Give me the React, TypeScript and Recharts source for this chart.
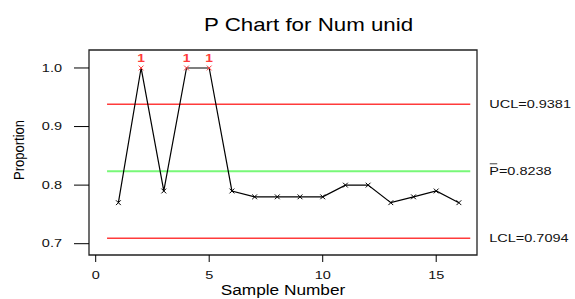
import React from 'react';
import { LineChart, Line, XAxis, YAxis, ReferenceLine, ReferenceArea } from 'recharts';

const samples = [1, 2, 3, 4, 5, 6, 7, 8, 9, 10, 11, 12, 13, 14, 15, 16];
const proportions = [0.77, 1.0, 0.79, 1.0, 1.0, 0.79, 0.78, 0.78, 0.78, 0.78, 0.8, 0.8, 0.77, 0.78, 0.79, 0.77];
const ucl = 0.9381;
const centerLine = 0.8238;
const lcl = 0.7094;
const xTicks = [0, 5, 10, 15];
const yTicks = [0.7, 0.8, 0.9, 1.0];
const xDomain: [number, number] = [-0.295, 16.797];
const yDomain: [number, number] = [0.6807, 1.0307];
const limitStart = 0.5;
const limitEnd = 16.5;
const title = 'P Chart for Num unid';
const xLabel = 'Sample Number';
const yLabel = 'Proportion';

const data = samples.map((s, i) => ({ sample: s, p: proportions[i] }));

const FONT = '"Liberation Sans", Arial, Helvetica, sans-serif';
const RED = '#ff3b3b';
const GREEN = '#78f878';

function SText({ x, y, sx = 1, size, anchor = 'start', fill = '#000', rotate = 0, weight = 'normal', children }: any) {
  const tf = `translate(${x},${y}) scale(${sx},1)` + (rotate ? ` rotate(${rotate})` : '');
  return (
    <text transform={tf} x={0} y={0} fontSize={size} textAnchor={anchor} fill={fill} fontFamily={FONT} fontWeight={weight}>
      {children}
    </text>
  );
}

const CrossDot = (props: any) => {
  const { cx, cy, payload } = props;
  if (cx == null || cy == null) return <g />;
  const out = payload.p > ucl || payload.p < lcl;
  const c = out ? RED : '#000';
  const r = 2.4;
  return (
    <g>
      <line x1={cx - r} y1={cy - r} x2={cx + r} y2={cy + r} stroke={c} strokeWidth={1} />
      <line x1={cx - r} y1={cy + r} x2={cx + r} y2={cy - r} stroke={c} strokeWidth={1} />
      {out && (
        <SText x={cx} y={cy - 6} size={11.5} sx={1.2} anchor="middle" fill={RED} weight="bold">
          1
        </SText>
      )}
    </g>
  );
};

const XTick = (props: any) => {
  const { x, y, payload } = props;
  return (
    <SText x={x} y={y + 15} size={10} sx={1.45} anchor="middle" fill="#111">
      {String(payload.value)}
    </SText>
  );
};

const YTick = (props: any) => {
  const { x, y, payload } = props;
  return (
    <SText x={x} y={y + 3.6} size={10} sx={1.45} anchor="end" fill="#111">
      {Number(payload.value).toFixed(1)}
    </SText>
  );
};

const makeRightLabel = (name: string, value: number, bar: boolean) => (props: any) => {
  const vb = props.viewBox || {};
  const x = (vb.x ?? 0) + (vb.width ?? 0) + 19;
  const y = (vb.y ?? 0) + 3.6;
  return (
    <g>
      {bar && <line x1={x + 0.5} x2={x + 8} y1={y - 11} y2={y - 11} stroke="#444" strokeWidth={1} />}
      <SText x={x} y={y} size={10} sx={1.45} fill="#111">
        {`${name}=${value.toFixed(4)}`}
      </SText>
    </g>
  );
};

const XAxisLabel = (props: any) => {
  const vb = props.viewBox || {};
  return (
    <SText x={vb.x + vb.width / 2} y={vb.y + 40} size={15} sx={1.15} anchor="middle">
      {xLabel}
    </SText>
  );
};

const YAxisLabel = () => (
  <SText x={23.5} y={150} size={13} sx={1.1} rotate={-90} anchor="middle">
    {yLabel}
  </SText>
);

export default function App() {
  return (
    <div style={{ position: 'absolute', left: 0, top: 0, width: 575, height: 299, background: '#fff' }}>
      <LineChart width={575} height={299} data={data} margin={{ top: 50, right: 98, bottom: 0, left: 0 }}>
        <XAxis
          type="number"
          dataKey="sample"
          domain={xDomain}
          allowDataOverflow
          ticks={xTicks}
          height={44}
          tickSize={7}
          tickMargin={2}
          axisLine={false}
          tickLine={{ stroke: '#000', strokeWidth: 1 }}
          tick={<XTick />}
          label={<XAxisLabel />}
        />
        <YAxis
          type="number"
          domain={yDomain}
          allowDataOverflow
          ticks={yTicks}
          width={89}
          tickSize={15}
          tickMargin={12}
          axisLine={false}
          tickLine={{ stroke: '#000', strokeWidth: 1 }}
          tick={<YTick />}
          label={<YAxisLabel />}
        />
        <ReferenceArea
          x1={xDomain[0]}
          x2={xDomain[1]}
          y1={yDomain[0]}
          y2={yDomain[1]}
          fill="none"
          fillOpacity={0}
          stroke="#222"
          strokeWidth={1.3}
          ifOverflow="visible"
        />
        <ReferenceLine
          segment={[{ x: limitStart, y: ucl }, { x: limitEnd, y: ucl }]}
          stroke={RED}
          strokeWidth={1.4}
          ifOverflow="visible"
          label={makeRightLabel('UCL', ucl, false)}
        />
        <ReferenceLine
          segment={[{ x: limitStart, y: centerLine }, { x: limitEnd, y: centerLine }]}
          stroke={GREEN}
          strokeWidth={2}
          ifOverflow="visible"
          label={makeRightLabel('P', centerLine, true)}
        />
        <ReferenceLine
          segment={[{ x: limitStart, y: lcl }, { x: limitEnd, y: lcl }]}
          stroke={RED}
          strokeWidth={1.4}
          ifOverflow="visible"
          label={makeRightLabel('LCL', lcl, false)}
        />
        <Line
          type="linear"
          dataKey="p"
          stroke="#000"
          strokeWidth={1.2}
          dot={<CrossDot />}
          activeDot={false}
          isAnimationActive={false}
        />
      </LineChart>
      <svg width={575} height={40} style={{ position: 'absolute', left: 0, top: 0, pointerEvents: 'none' }}>
        <SText x={204} y={31} size={18} sx={1.24}>
          {title}
        </SText>
      </svg>
    </div>
  );
}
